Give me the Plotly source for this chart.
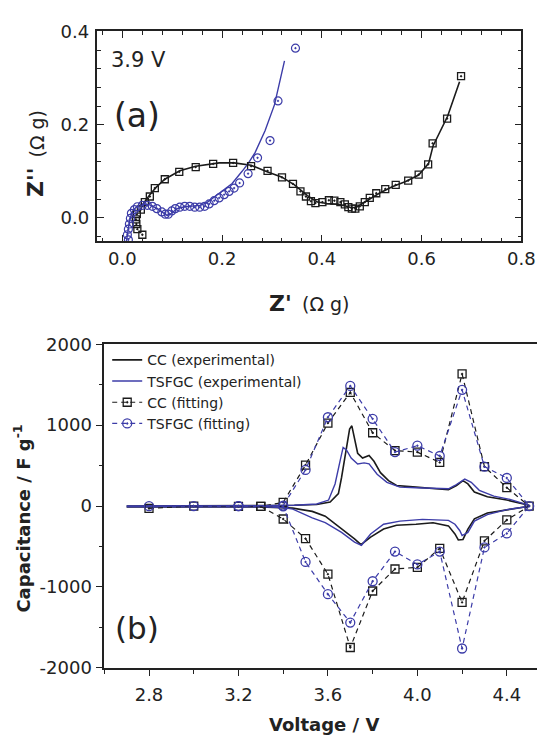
import plotly.graph_objects as go

# ---------------- (a) Nyquist plot at 3.9 V ----------------
# CC: measured points (Z', Z'') in Ohm g
cc_re = [0.040, 0.030, 0.028, 0.027, 0.029, 0.037, 0.045, 0.055, 0.065, 0.085,
         0.114, 0.147, 0.182, 0.222, 0.258, 0.291, 0.320, 0.342, 0.357, 0.368,
         0.378, 0.387, 0.401, 0.414, 0.425, 0.437, 0.446, 0.453, 0.460, 0.467,
         0.476, 0.486, 0.496, 0.509, 0.527, 0.548, 0.573, 0.594, 0.613, 0.622,
         0.651, 0.679]
cc_im = [-0.036, -0.024, -0.013, -0.003, 0.008, 0.018, 0.034, 0.046, 0.064, 0.083,
         0.099, 0.109, 0.116, 0.118, 0.111, 0.101, 0.087, 0.073, 0.057, 0.046,
         0.036, 0.032, 0.034, 0.038, 0.037, 0.034, 0.029, 0.023, 0.020, 0.020,
         0.025, 0.034, 0.043, 0.053, 0.062, 0.071, 0.080, 0.093, 0.115, 0.160,
         0.213, 0.304]

# CC: equivalent-circuit fit
cc_fit_re = [0.033, 0.043, 0.055, 0.068, 0.085, 0.115, 0.147, 0.194, 0.224, 0.258,
             0.290, 0.319, 0.345, 0.371, 0.391, 0.410, 0.437, 0.460, 0.469, 0.489,
             0.515, 0.541, 0.568, 0.594, 0.614, 0.623, 0.652, 0.676]
cc_fit_im = [0.012, 0.032, 0.050, 0.066, 0.083, 0.101, 0.111, 0.118, 0.118, 0.113,
             0.099, 0.088, 0.071, 0.048, 0.034, 0.031, 0.029, 0.022, 0.023, 0.036,
             0.053, 0.067, 0.078, 0.092, 0.117, 0.155, 0.218, 0.292]

# TSFGC: measured points
ts_re = [0.012, 0.010, 0.012, 0.014, 0.016, 0.018, 0.024, 0.030, 0.040, 0.050,
         0.060, 0.069, 0.079, 0.086, 0.092, 0.099, 0.106, 0.115, 0.125, 0.135,
         0.145, 0.155, 0.165, 0.174, 0.184, 0.194, 0.204, 0.214, 0.224, 0.235,
         0.252, 0.271, 0.296, 0.312, 0.347]
ts_im = [-0.047, -0.036, -0.024, -0.013, -0.001, 0.010, 0.018, 0.024, 0.027, 0.027,
         0.025, 0.020, 0.013, 0.008, 0.008, 0.015, 0.020, 0.023, 0.025, 0.025,
         0.023, 0.023, 0.025, 0.030, 0.037, 0.043, 0.050, 0.057, 0.064, 0.075,
         0.095, 0.129, 0.166, 0.251, 0.364]

# TSFGC: equivalent-circuit fit
ts_fit_re = [0.008, 0.011, 0.015, 0.020, 0.028, 0.040, 0.055, 0.070, 0.082, 0.090,
             0.098, 0.110, 0.125, 0.142, 0.155, 0.168, 0.181, 0.194, 0.207, 0.220,
             0.240, 0.253, 0.266, 0.286, 0.305, 0.325]
ts_fit_im = [-0.050, -0.025, -0.002, 0.013, 0.024, 0.030, 0.028, 0.020, 0.010, 0.005,
             0.010, 0.020, 0.024, 0.025, 0.027, 0.032, 0.043, 0.053, 0.063, 0.074,
             0.100, 0.118, 0.140, 0.187, 0.243, 0.337]

# ---------------- (b) Capacitance vs voltage ----------------
# experimental CV-derived capacitance loops (anodic branch, then cathodic branch)
cc_exp_v = [2.70, 3.00, 3.30, 3.45, 3.55, 3.61, 3.647, 3.661, 3.683, 3.697,
            3.707, 3.719, 3.733, 3.755, 3.784, 3.806, 3.835, 3.871, 3.907, 3.994,
            4.07, 4.139, 4.175, 4.204, 4.226, 4.255, 4.313, 4.40, 4.494, 4.50,
            4.494, 4.40, 4.313, 4.255, 4.226, 4.204, 4.183, 4.168, 4.139, 4.07,
            3.994, 3.907, 3.849, 3.791, 3.748, 3.719, 3.661, 3.588, 3.530, 3.443,
            3.30, 3.00, 2.70]
cc_exp_c = [0, 0, 5, 10, 20, 50, 153, 353, 713, 952,
            992, 832, 653, 593, 625, 553, 413, 314, 254, 234,
            213, 201, 254, 314, 273, 174, 114, 74, 14, 0,
            -5, -45, -86, -158, -285, -413, -419, -345, -245, -206,
            -225, -237, -285, -385, -477, -405, -285, -126, -66, -26,
            -10, -10, -10]

ts_exp_v = [2.70, 3.00, 3.30, 3.45, 3.55, 3.603, 3.632, 3.654, 3.668, 3.683,
            3.704, 3.733, 3.762, 3.784, 3.820, 3.864, 3.922, 3.994, 4.07, 4.139,
            4.168, 4.212, 4.241, 4.277, 4.342, 4.414, 4.494, 4.50,
            4.494, 4.40, 4.313, 4.255, 4.226, 4.20, 4.19, 4.168, 4.139, 4.07,
            4.023, 3.922, 3.849, 3.791, 3.75, 3.719, 3.661, 3.588, 3.530, 3.443,
            3.40, 3.30, 3.00, 2.70]
ts_exp_c = [0, 0, 5, 10, 25, 74, 273, 553, 725, 693,
            593, 521, 533, 521, 393, 293, 234, 226, 215, 213,
            254, 333, 293, 194, 122, 82, 14, 0,
            -5, -45, -105, -186, -326, -365, -305, -225, -177, -170,
            -165, -186, -225, -345, -485, -445, -326, -206, -146, -38,
            -20, -10, -10, -10]

# fitted capacitance (charge branch up to 4.5 V, then discharge branch back)
cc_fit_v = [2.8, 3.0, 3.2, 3.3, 3.4, 3.5, 3.6, 3.7, 3.8, 3.9, 4.0, 4.1, 4.2, 4.3,
            4.4, 4.5, 4.4, 4.3, 4.2, 4.1, 4.0, 3.9, 3.8, 3.7, 3.6, 3.5, 3.4, 3.3]
cc_fit_c = [-30, 0, -5, -5, 45, 507, 1026, 1405, 906, 686, 667, 539, 1633, 487,
            227, 0, -172, -431, -1190, -523, -758, -778, -1050, -1749, -842, -403, -160, -5]

ts_fit_v = [2.8, 3.0, 3.2, 3.4, 3.5, 3.6, 3.7, 3.8, 3.9, 4.0, 4.1, 4.2, 4.3, 4.4,
            4.5, 4.4, 4.3, 4.2, 4.1, 4.0, 3.9, 3.8, 3.7, 3.6, 3.5, 3.4, 3.2]
ts_fit_c = [0, 0, 0, 5, 447, 1098, 1485, 1078, 667, 746, 619, 1437, 487, 347,
            0, -339, -511, -1761, -563, -722, -563, -930, -1441, -1090, -691, -5, 0]

cap_ticks = [-2000, -1000, 0, 1000, 2000]
cap_ticktext = ["-2000", "-1000", "0", "1000", "2000"]

# ---------------- styling ----------------
W, H = 551, 740
FONT = "DejaVu Sans"
INK = "#222"
BLACK = "#1b1b1b"
BLUE = "#3c3ca8"


def fx(p):
    return p / W


def fy(p):
    return 1 - p / H


fig = go.Figure()

# panel (a)
fig.add_trace(go.Scatter(x=cc_fit_re, y=cc_fit_im, mode="lines", line=dict(color=BLACK, width=1.6),
                         showlegend=False, xaxis="x", yaxis="y"))
fig.add_trace(go.Scatter(x=ts_fit_re, y=ts_fit_im, mode="lines", line=dict(color=BLUE, width=1.4),
                         showlegend=False, xaxis="x", yaxis="y"))
fig.add_trace(go.Scatter(x=cc_re, y=cc_im, mode="markers",
                         marker=dict(symbol="square-open-dot", size=7, color=BLACK, line=dict(width=1.3)),
                         showlegend=False, xaxis="x", yaxis="y"))
fig.add_trace(go.Scatter(x=ts_re, y=ts_im, mode="markers",
                         marker=dict(symbol="circle-open-dot", size=8, color=BLUE, line=dict(width=1.2)),
                         showlegend=False, xaxis="x", yaxis="y"))

# panel (b)
fig.add_trace(go.Scatter(x=cc_exp_v, y=cc_exp_c, mode="lines", name="CC (experimental)",
                         line=dict(color=BLACK, width=1.6), xaxis="x2", yaxis="y2"))
fig.add_trace(go.Scatter(x=ts_exp_v, y=ts_exp_c, mode="lines", name="TSFGC (experimental)",
                         line=dict(color=BLUE, width=1.4), xaxis="x2", yaxis="y2"))
fig.add_trace(go.Scatter(x=cc_fit_v, y=cc_fit_c, mode="lines+markers", name="CC (fitting)",
                         line=dict(color=BLACK, width=1.2, dash="5px,4px"),
                         marker=dict(symbol="square-open-dot", size=8, color=BLACK, line=dict(width=1.3)),
                         xaxis="x2", yaxis="y2"))
fig.add_trace(go.Scatter(x=ts_fit_v, y=ts_fit_c, mode="lines+markers", name="TSFGC (fitting)",
                         line=dict(color=BLUE, width=1.2, dash="5px,4px"),
                         marker=dict(symbol="circle-open-dot", size=9, color=BLUE, line=dict(width=1.3)),
                         xaxis="x2", yaxis="y2"))

tickfont = dict(family=FONT, size=18, color=INK)
common = dict(showgrid=False, zeroline=False, showline=True, linecolor=INK, linewidth=1.5,
              tickcolor=INK, tickwidth=1.3, tickfont=tickfont)

fig.update_layout(
    width=W, height=H, autosize=False,
    margin=dict(l=0, r=0, t=0, b=0),
    paper_bgcolor="white", plot_bgcolor="white",
    font=dict(family=FONT, color=INK),
    xaxis=dict(domain=[fx(100), fx(535)], range=[-0.05, 0.8], anchor="y",
               tick0=0, dtick=0.2, tickformat=".1f", ticks="inside", ticklen=7,
               mirror="allticks", ticklabelstandoff=0,
               minor=dict(dtick=0.04, tick0=0, ticks="inside", ticklen=4, tickwidth=1.1, tickcolor=INK),
               **common),
    yaxis=dict(domain=[fy(237), fy(21)], range=[-0.05, 0.4], anchor="x",
               tick0=0, dtick=0.2, tickformat=".1f", ticks="inside", ticklen=7,
               mirror="allticks", ticklabelstandoff=3,
               minor=dict(dtick=0.04, tick0=0, ticks="inside", ticklen=4, tickwidth=1.1, tickcolor=INK),
               **common),
    xaxis2=dict(domain=[fx(107), 1.0], range=[2.6, 4.535], anchor="y2",
                tick0=2.8, dtick=0.4, tickformat=".1f", ticks="outside", ticklen=6,
                mirror=True, ticklabelstandoff=4,
                minor=dict(dtick=0.2, tick0=2.8, ticks="outside", ticklen=4, tickwidth=1.1, tickcolor=INK),
                **common),
    yaxis2=dict(domain=[fy(676), fy(343)], range=[-2000, 2000], anchor="x2",
                tickvals=cap_ticks, ticktext=cap_ticktext, ticks="outside", ticklen=7,
                minor=dict(dtick=500, tick0=0, ticks="outside", ticklen=4, tickwidth=1.1, tickcolor=INK),
                **common),
    showlegend=True,
    legend=dict(x=fx(110), y=fy(343), xanchor="left", yanchor="top",
                bgcolor="rgba(0,0,0,0)", font=dict(family=FONT, size=14, color=INK),
                tracegroupgap=0, itemwidth=30),
)

ann = [
    dict(text="3.9 V", x=fx(142), y=fy(50), font=dict(size=21)),
    dict(text="(a)", x=fx(141), y=fy(108), font=dict(size=33)),
    dict(text="(b)", x=fx(141), y=fy(635), font=dict(size=31)),
    # x-axis title of (a)
    dict(text="<b>Z'</b>", x=fx(288), y=fy(301), font=dict(size=22)),
    dict(text="(Ω g)", x=fx(334), y=fy(302), font=dict(size=19)),
    # y-axis title of (a)
    dict(text="<b>Z''</b>", x=fx(37), y=fy(177), font=dict(size=22), textangle=-90),
    dict(text="(Ω g)", x=fx(38), y=fy(127), font=dict(size=19), textangle=-90),
    # axis titles of (b)
    dict(text="<b>Capacitance / F g<sup>-1</sup></b>", x=fx(23), y=fy(522),
         font=dict(size=18), textangle=-90),
    dict(text="<b>Voltage / V</b>", x=fx(332), y=fy(734), font=dict(size=18)),
]
for a in ann:
    a.update(xref="paper", yref="paper", showarrow=False, xanchor="center", yanchor="middle")
    a["font"].update(family=FONT, color=INK)
fig.update_layout(annotations=ann)

fig.write_html("out.html")
